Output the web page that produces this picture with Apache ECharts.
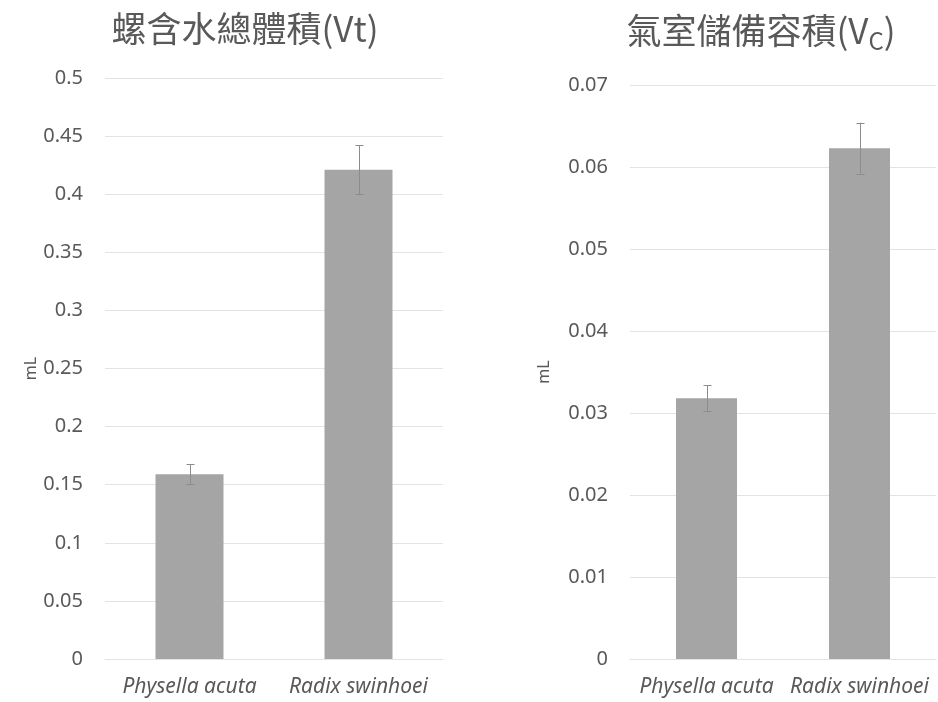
<!DOCTYPE html>
<html>
<head>
<meta charset="utf-8">
<script src="https://cdn.jsdelivr.net/npm/echarts@6/dist/echarts.min.js"></script>
<style>
html,body{margin:0;padding:0;background:#fff;}
#c{width:938px;height:702px;}
</style>
</head>
<body>
<div id="c"></div>
<script>
const categories = ['Physella acuta', 'Radix swinhoei'];
const vtValues = [0.159, 0.421];
const vtErrors = [0.0085, 0.021];
const vcValues = [0.0318, 0.0623];
const vcErrors = [0.0016, 0.0031];

const TXT = '#595959';
const GRID = '#e3e3e3';
const BAR = '#a5a5a5';
const ERR = '#8c8c8c';
const NUM_FONT = '"Noto Sans", "Open Sans", sans-serif';
const CJK_FONT = '"Noto Sans CJK TC", "Noto Sans CJK SC", sans-serif';

function fmt(v){ return parseFloat(v.toFixed(4)).toString(); }

function errItem(){
  return function(params, api){
    const idx = api.value(0);
    const v = api.value(1);
    const e = api.value(2);
    const top = api.coord([idx, v + e]);
    const bot = api.coord([idx, v - e]);
    const x = Math.round(top[0]) + 0.5;
    const hw = 4;
    const st = {stroke: ERR, lineWidth: 1};
    return {type:'group', children:[
      {type:'line', shape:{x1:x, y1:top[1], x2:x, y2:bot[1]}, style:st},
      {type:'line', shape:{x1:x-hw, y1:Math.round(top[1])+0.5, x2:x+hw, y2:Math.round(top[1])+0.5}, style:st},
      {type:'line', shape:{x1:x-hw, y1:Math.round(bot[1])+0.5, x2:x+hw, y2:Math.round(bot[1])+0.5}, style:st}
    ]};
  };
}

function xAxisCfg(gi){
  return {
    type:'category', gridIndex:gi, data:categories,
    axisLine:{lineStyle:{color:GRID, width:1}},
    axisTick:{show:false},
    axisLabel:{color:TXT, fontSize:21, fontStyle:'italic', fontFamily:NUM_FONT, margin:18, interval:0}
  };
}
function yAxisCfg(gi, max, interval, gap){
  return {
    type:'value', gridIndex:gi, min:0, max:max, interval:interval,
    name:'mL', nameLocation:'middle', nameRotate:90, nameGap:gap,
    nameTextStyle:{color:TXT, fontSize:16, fontFamily:NUM_FONT},
    axisLine:{show:false}, axisTick:{show:false},
    splitLine:{lineStyle:{color:GRID, width:1}},
    axisLabel:{color:TXT, fontSize:20, fontFamily:NUM_FONT, margin:22, formatter:fmt}
  };
}

const chart = echarts.init(document.getElementById('c'), null, {renderer:'canvas'});
chart.setOption({
  animation:false,
  backgroundColor:'#fff',
  title:[
    {text:'螺含水總體積(Vt)', left:240, top:6, textAlign:'center',
     textStyle:{color:TXT, fontSize:35, fontWeight:'normal', fontFamily:CJK_FONT}},
    {text:'{a|氣室儲備容積(V}{s|C}{a|)}', left:756, top:8, textAlign:'center',
     textStyle:{fontWeight:'normal', rich:{
       a:{color:TXT, fontSize:35, fontWeight:'normal', fontFamily:CJK_FONT, lineHeight:40, verticalAlign:'top'},
       s:{color:TXT, fontSize:24, fontWeight:'normal', fontFamily:CJK_FONT, lineHeight:22, verticalAlign:'bottom', padding:[22,0,0,0]}
     }}}
  ],
  grid:[
    {left:105, right:495, top:78, bottom:43},
    {left:630, right:2, top:85, bottom:43}
  ],
  xAxis:[xAxisCfg(0), xAxisCfg(1)],
  yAxis:[yAxisCfg(0, 0.5, 0.05, 66), yAxisCfg(1, 0.07, 0.01, 78)],
  series:[
    {type:'bar', xAxisIndex:0, yAxisIndex:0, data:vtValues, barWidth:68, itemStyle:{color:BAR}, silent:true},
    {type:'custom', xAxisIndex:0, yAxisIndex:0, renderItem:errItem(), data:vtValues.map((v,i)=>[i, v, vtErrors[i]]), z:5, silent:true},
    {type:'bar', xAxisIndex:1, yAxisIndex:1, data:vcValues, barWidth:61, itemStyle:{color:BAR}, silent:true},
    {type:'custom', xAxisIndex:1, yAxisIndex:1, renderItem:errItem(), data:vcValues.map((v,i)=>[i, v, vcErrors[i]]), z:5, silent:true}
  ]
});
</script>
</body>
</html>
